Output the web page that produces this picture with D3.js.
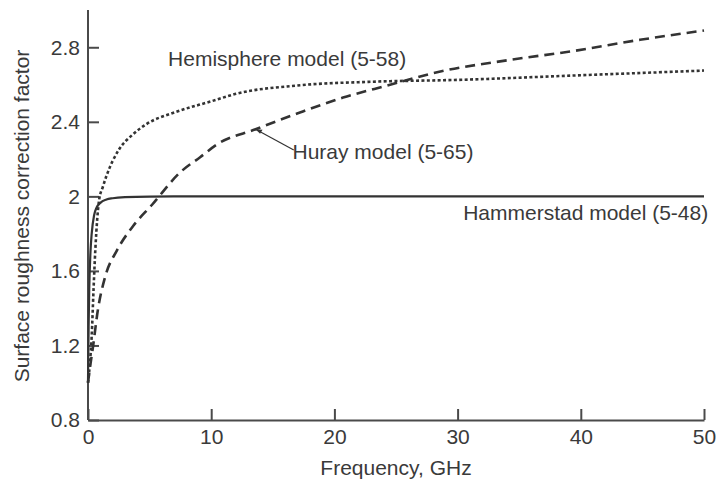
<!DOCTYPE html>
<html>
<head>
<meta charset="utf-8">
<script src="https://cdn.jsdelivr.net/npm/d3@7"></script>
<style>
  body { margin: 0; background: #fff; }
  svg text { font-family: "Liberation Sans", Arial, Helvetica, sans-serif; fill: #3a3a3a; }
</style>
</head>
<body>
<div id="chart"></div>
<script>
// values
const xTicks = [0, 10, 20, 30, 40, 50]
const yTicks = [0.8, 1.2, 1.6, 2, 2.4, 2.8]

const hamFreq = [0, 0.05, 0.1, 0.2, 0.3, 0.5, 0.7, 1, 1.5, 2, 3, 5, 10, 20, 30, 40, 50]
const hamVal  = [1.0, 1.3, 1.5, 1.7, 1.8, 1.9, 1.94, 1.965, 1.983, 1.99, 1.996, 1.999, 2, 2, 2, 2, 2]

const hemiFreq = [0, 0.15, 0.3, 0.45, 0.6, 0.75, 0.9, 1.2, 1.5, 2.5, 3.6, 4.8, 7, 10, 12, 17, 23, 30, 40, 50]
const hemiVal  = [1.0, 1.1, 1.25, 1.5, 1.72, 1.88, 1.98, 2.05, 2.11, 2.25, 2.33, 2.39, 2.45, 2.51, 2.55, 2.595, 2.615, 2.625, 2.65, 2.675]

const hurayFreq = [0, 0.2, 0.4, 0.8, 1.4, 2.35, 3.65, 5.2, 7.5, 9.1, 10.5, 13.6, 17.2, 20.7, 24.3, 28.6, 34, 39.4, 44.8, 50]
const hurayVal  = [1.0, 1.1, 1.19, 1.39, 1.57, 1.71, 1.84, 1.955, 2.13, 2.21, 2.28, 2.36, 2.45, 2.53, 2.595, 2.67, 2.73, 2.78, 2.84, 2.89]

const width = 719, height = 481

const x = d3.scaleLinear().domain([0, 50]).range([88, 704])
const y = d3.scaleLinear().domain([0.8, 3.0]).range([420, 10])

const svg = d3.select('#chart').append('svg')
  .attr('width', width)
  .attr('height', height)

const axisColor = '#4a4a4a'

const xAxis = svg.append('g')
  .attr('transform', `translate(0,${y(0.8)})`)
  .call(d3.axisBottom(x).tickValues(xTicks).tickFormat(d3.format('d'))
    .tickSizeInner(-11).tickSizeOuter(0).tickPadding(9))

const yAxis = svg.append('g')
  .attr('transform', `translate(${x(0)},0)`)
  .call(d3.axisLeft(y).tickValues(yTicks).tickFormat(d => d === 2 ? '2' : d3.format('.1f')(d))
    .tickSizeInner(-11).tickSizeOuter(0).tickPadding(8))

// stretch the y axis line to the top of the frame
yAxis.select('.domain').attr('d', `M0,${y(0.8)}V${y(3.0)}`)

svg.selectAll('.domain').attr('stroke', axisColor).attr('stroke-width', 2)
svg.selectAll('.tick line').attr('stroke', axisColor).attr('stroke-width', 2)
svg.selectAll('.tick text').style('font-size', '21px').attr('fill', '#3a3a3a')

const line = d3.line()
  .x(d => x(d[0]))
  .y(d => y(d[1]))
  .curve(d3.curveMonotoneX)

const series = [
  { f: hamFreq, v: hamVal, dash: null, w: 2.2 },
  { f: hemiFreq, v: hemiVal, dash: '3,2.4', w: 2.6 },
  { f: hurayFreq, v: hurayVal, dash: '10,6', w: 2.6 }
]

svg.append('g').selectAll('path')
  .data(series)
  .enter().append('path')
  .attr('d', s => line(s.f.map((f, i) => [f, s.v[i]])))
  .attr('fill', 'none')
  .attr('stroke', '#333')
  .attr('stroke-width', s => s.w)
  .attr('stroke-dasharray', s => s.dash)

// labels
const labels = svg.append('g').style('font-size', '21px')

labels.append('text')
  .attr('x', x(6.5)).attr('y', 66)
  .text('Hemisphere model (5-58)')

labels.append('text')
  .attr('x', x(16.6)).attr('y', 159)
  .text('Huray model (5-65)')

labels.append('text')
  .attr('x', x(30.45)).attr('y', 220)
  .text('Hammerstad model (5-48)')

// pointer from the Huray label to its curve
const tip = [x(13.6), y(2.36)]
svg.append('line')
  .attr('x1', x(16.7)).attr('y1', 150)
  .attr('x2', tip[0]).attr('y2', tip[1])
  .attr('stroke', '#333').attr('stroke-width', 1.2)
svg.append('path')
  .attr('d', `M${tip[0]},${tip[1]} l7,0.5 l-2.5,4 z`)
  .attr('fill', '#333')

// axis titles
svg.append('text')
  .attr('x', (x(0) + x(50)) / 2).attr('y', 475)
  .attr('text-anchor', 'middle')
  .style('font-size', '21px')
  .text('Frequency, GHz')

svg.append('text')
  .attr('transform', `translate(29,${216}) rotate(-90)`)
  .attr('text-anchor', 'middle')
  .style('font-size', '21px')
  .text('Surface roughness correction factor')
</script>
</body>
</html>
